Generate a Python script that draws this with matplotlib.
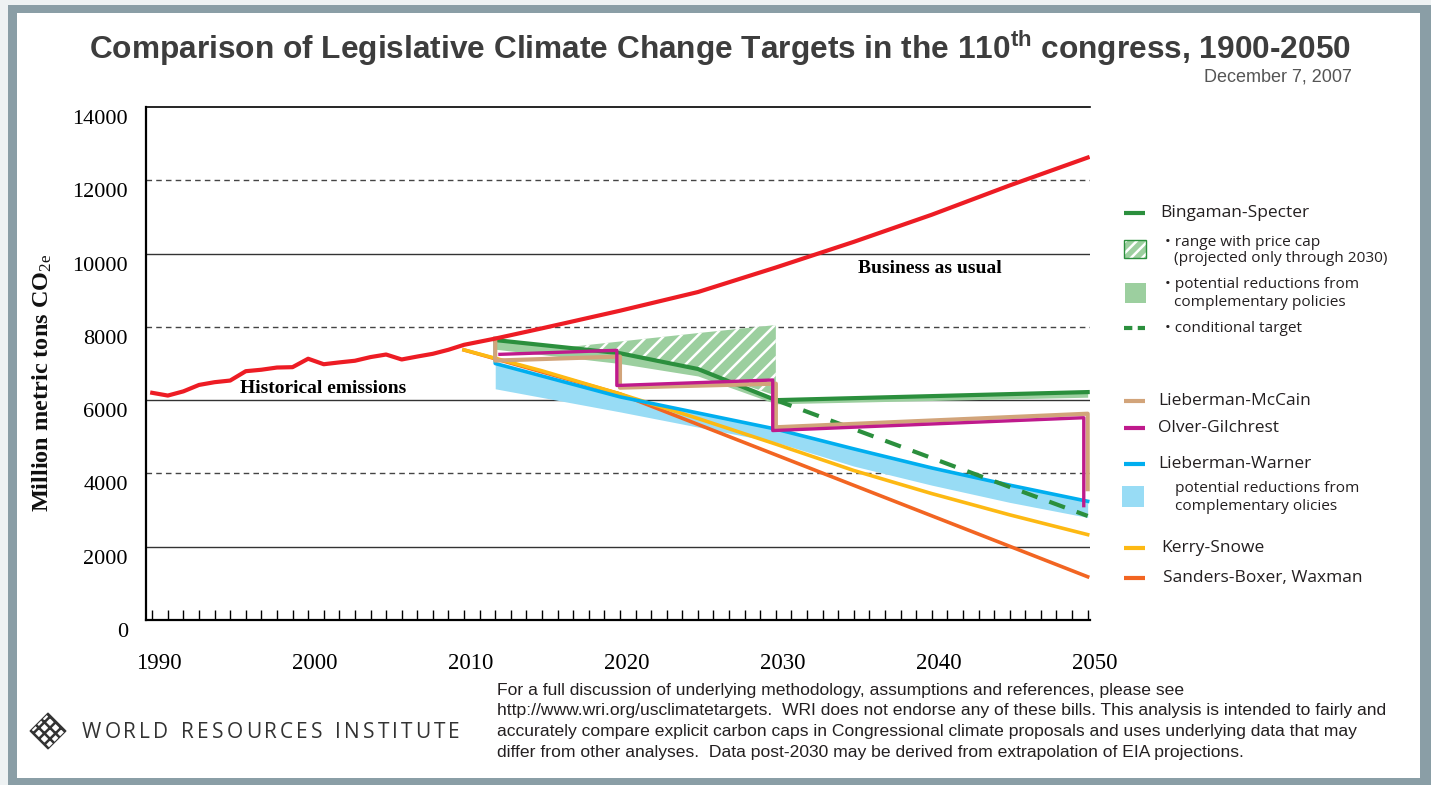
import matplotlib
matplotlib.use("Agg")
import matplotlib.pyplot as plt
from matplotlib.patches import Polygon, Rectangle
from matplotlib.font_manager import FontProperties
from matplotlib.transforms import ScaledTranslation

plt.rcParams["mathtext.fontset"] = "custom"
plt.rcParams["mathtext.rm"] = "Liberation Serif"
plt.rcParams["mathtext.sf"] = "Liberation Sans:bold"
plt.rcParams["hatch.linewidth"] = 1.8

# ── data (million metric tons CO2e) ────────────────────────────────────
bau_years = list(range(1990, 2011)) + [2012, 2015, 2020, 2025, 2030, 2035,
                                        2040, 2045, 2050]
bau_vals = [6200, 6125, 6240, 6415, 6490, 6535, 6790, 6830, 6890, 6900,
            7130, 6980, 7030, 7075, 7175, 7245, 7110, 7190, 7265, 7375,
            7510, 7680, 7960, 8440, 8950, 9620, 10320, 11060, 11860, 12620]

kerry_years = [2010, 2015, 2020, 2025, 2030, 2035, 2040, 2045, 2050]
kerry_vals = [7370, 6800, 6170, 5500, 4800, 4080, 3450, 2870, 2330]

sanders_years = [2010, 2020, 2050]
sanders_vals = [7370, 6170, 1180]

lw_years = [2012, 2012, 2020, 2030, 2035, 2040, 2045, 2050]
lw_vals = [7680, 7000, 6090, 5210, 4670, 4150, 3680, 3240]

lw_band_years = [2012, 2020, 2030, 2035, 2040, 2045, 2050]
lw_band_hi = [7000, 6090, 5210, 4670, 4150, 3680, 3240]
lw_band_lo = [6310, 5680, 4850, 4200, 3680, 3210, 2800]

mccain_years = [2012, 2012, 2020, 2020, 2030, 2030, 2050, 2050]
mccain_vals = [7680, 7080, 7190, 6340, 6450, 5260, 5630, 3570]

olver_years = [2012.3, 2019.8, 2019.8, 2029.8, 2029.8, 2049.75, 2049.75]
olver_vals = [7250, 7360, 6400, 6550, 5170, 5520, 3120]

bing_years = [2012, 2020, 2025, 2030, 2050]
bing_vals = [7640, 7280, 6850, 6000, 6220]
bing_band_lo = [7390, 7000, 6660, 5900, 6080]

cap_years = [2016.5, 2020, 2025, 2030]
cap_hi = [7440, 7600, 7830, 8050]
cap_lo = [7440, 7280, 6850, 6120]

cond_years = [2030, 2050]
cond_vals = [6000, 2840]

x_ticks = [1990, 2000, 2010, 2020, 2030, 2040, 2050]
y_ticks = [0, 2000, 4000, 6000, 8000, 10000, 12000, 14000]
grid_solid = [2000, 6000, 10000]
grid_dashed = [4000, 8000, 12000]

C_RED = "#ed1c24"
C_YEL = "#fdb913"
C_ORA = "#f26522"
C_BLU = "#00aeef"
C_LBLU = "#98dcf5"
C_TAN = "#d2a47a"
C_MAG = "#bf1a8c"
C_GRN = "#2b8f3d"
C_LGRN = "#9ccf9f"

footer = ["For a full discussion of underlying methodology, assumptions and references, please see",
          "http://www.wri.org/usclimatetargets.  WRI does not endorse any of these bills. This analysis is intended to fairly and",
          "accurately compare explicit carbon caps in Congressional climate proposals and uses underlying data that may",
          "differ from other analyses.  Data post-2030 may be derived from extrapolation of EIA projections."]

fig = plt.figure(figsize=(14.31, 7.85), dpi=100)

# overlay in pixel coordinates for frame, title, legend and footer
ov = fig.add_axes([0, 0, 1, 1], zorder=0)
ov.set_xlim(0, 1431)
ov.set_ylim(785, 0)
ov.axis("off")
ov.add_patch(Rectangle((0, 0), 1431, 785, fc="#eef2f3", ec="none"))
ov.add_patch(Rectangle((8, 5), 1423, 780, fc="#8a9ea6", ec="none"))
ov.add_patch(Rectangle((17, 13), 1403, 765, fc="white", ec="none"))

ov.text(720, 48, r"Comparison of Legislative Climate Change Targets in the 110$^{\mathsf{th}}$ congress, 1900-2050",
        ha="center", va="center", fontsize=22.8, fontweight="bold",
        family="Liberation Sans", color="#3d3d3d")
ov.text(1352, 77, "December 7, 2007", ha="right", va="center", fontsize=13,
        family="Liberation Sans", color="#555555")
ov.text(42, 383, r"Million metric tons CO$\mathrm{_{2e}}$", rotation=90,
        ha="center", va="center", fontsize=17.5, fontweight="bold",
        family="Liberation Serif", color="#111111")

# ── main axes ──────────────────────────────────────────────────────────
ax = fig.add_axes([146 / 1431, 1 - 620 / 785, (1090 - 146) / 1431,
                   (620 - 107) / 785], zorder=2)
ax.set_xlim(1989.6, 2050.15)
ax.set_ylim(0, 14000)
for g in grid_solid:
    ax.axhline(g, color="#333333", lw=1.0, zorder=1)
for g in grid_dashed:
    ax.axhline(g, color="#444444", lw=1.0, ls=(0, (4, 3)), zorder=1)
for s in ("left", "bottom"):
    ax.spines[s].set_linewidth(1.6)
ax.spines["top"].set_linewidth(1.2)
ax.spines["right"].set_visible(False)

ax.set_xticks(x_ticks, [str(t) for t in x_ticks])
ax.set_xticks(range(1990, 2051), minor=True)
ax.set_yticks(y_ticks, [str(t) for t in y_ticks])
ax.tick_params(axis="x", which="both", direction="in", length=7, width=1)
ax.tick_params(axis="x", which="major", pad=24, labelsize=16.5)
ax.tick_params(axis="y", length=0, pad=13, labelsize=16)
for lbl in ax.get_xticklabels():
    lbl.set_fontfamily("Liberation Serif")
    lbl.set_transform(lbl.get_transform() + ScaledTranslation(0.07, 0, fig.dpi_scale_trans))
for lbl in ax.get_yticklabels():
    lbl.set_fontfamily("Liberation Serif")
    lbl.set_transform(lbl.get_transform() + ScaledTranslation(0, -0.10, fig.dpi_scale_trans))

# bands
ax.fill_between(lw_band_years, lw_band_lo, lw_band_hi, color=C_LBLU, lw=0, zorder=2)
ax.fill_between(bing_years, bing_band_lo, bing_vals, color=C_LGRN, lw=0, zorder=2)
ax.fill_between(cap_years, cap_lo, cap_hi, facecolor=C_LGRN, edgecolor="white",
                hatch="//", lw=0, zorder=2.5)

# lines
ax.plot(sanders_years, sanders_vals, color=C_ORA, lw=2.6, zorder=3)
ax.plot(kerry_years, kerry_vals, color=C_YEL, lw=2.6, zorder=3.1)
ax.plot(lw_years, lw_vals, color=C_BLU, lw=2.6, zorder=3.2)
ax.plot(cond_years, cond_vals, color=C_GRN, lw=3, dashes=(4, 3), zorder=3.3)
ax.plot(bing_years, bing_vals, color=C_GRN, lw=3, zorder=3.4)
ax.plot(mccain_years, mccain_vals, color=C_TAN, lw=3, zorder=3.5)
ax.plot(olver_years, olver_vals, color=C_MAG, lw=2.4, zorder=3.6)
ax.plot(bau_years, bau_vals, color=C_RED, lw=3, zorder=4)

ax.text(1995.6, 6317, "Historical emissions", family="Liberation Serif",
        fontweight="bold", fontsize=14, va="center")
ax.text(2035.3, 9598, "Business as usual", family="Liberation Serif",
        fontweight="bold", fontsize=14, va="center")

# ── legend (hand placed like the original) ─────────────────────────────
LF = "Open Sans"
TC = "#231f20"
for y, color, dash in [(213, C_GRN, None), (328, C_GRN, (2.0, 1.3)),
                       (401, C_TAN, None), (428, C_MAG, None),
                       (464, C_BLU, None), (548, C_YEL, None),
                       (578, C_ORA, None)]:
    kw = dict(dashes=dash) if dash else {}
    ov.plot([1124, 1145], [y, y], color=color, lw=3, solid_capstyle="butt",
            dash_capstyle="butt", **kw)
ov.add_patch(Rectangle((1124, 240), 22, 18, fc=C_LGRN, ec="white", hatch="///", lw=0))
ov.add_patch(Rectangle((1124, 240), 22, 18, fill=False, ec=C_GRN, lw=1))
ov.add_patch(Rectangle((1125, 283), 21, 20, fc=C_LGRN, ec="none"))
ov.add_patch(Rectangle((1122, 486), 22, 21, fc=C_LBLU, ec="none"))

for x, y, s, fs in [(1160, 213, "Bingaman-Specter", 12.5),
                    (1165, 242, "• range with price cap", 11.1),
                    (1174, 259, "(projected only through 2030)", 11.1),
                    (1165, 285, "• potential reductions from", 11.1),
                    (1174, 302, "complementary policies", 11.1),
                    (1165, 329, "• conditional target", 11.1),
                    (1158, 401, "Lieberman-McCain", 12.5),
                    (1158, 428, "Olver-Gilchrest", 12.5),
                    (1158, 464, "Lieberman-Warner", 12.5),
                    (1175, 489, "potential reductions from", 11.1),
                    (1175, 506, "complementary olicies", 11.1),
                    (1161, 548, "Kerry-Snowe", 12.5),
                    (1163, 578, "Sanders-Boxer, Waxman", 12.5)]:
    ov.text(x, y, s, fontsize=fs, family=LF, color=TC, va="center", ha="left")

# ── footer ─────────────────────────────────────────────────────────────
for i, line in enumerate(footer):
    ov.text(497, 690 + i * 20.7, line, fontsize=12.6, family="Liberation Sans",
            color=TC, va="center", ha="left")

# logo + letter-spaced name
ov.add_patch(Polygon([(48, 713), (66, 731), (48, 749), (30, 731)], closed=True,
                     fc="white", ec="#333333", hatch="xxx", lw=0.8))
name = "WORLD RESOURCES INSTITUTE"
fp = FontProperties(family=LF, size=15)
rend = fig.canvas.get_renderer()
widths = [rend.get_text_width_height_descent(ch, fp, ismath=False)[0] if ch != " "
          else rend.get_text_width_height_descent("n", fp, ismath=False)[0] * 0.55
          for ch in name]
track = (460 - 82 - sum(widths)) / (len(name) - 1)
xc = 82
for ch, w in zip(name, widths):
    ov.text(xc, 732, ch, fontproperties=fp, color="#333333", va="center", ha="left")
    xc += w + track

fig.savefig("out.png", dpi=100)
